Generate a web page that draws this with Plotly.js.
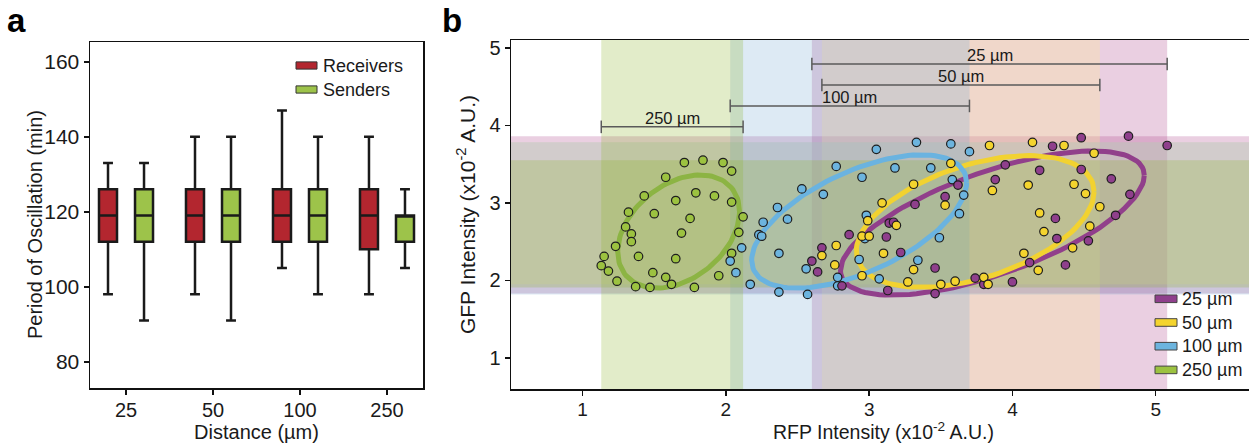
<!DOCTYPE html>
<html><head><meta charset="utf-8">
<script src="https://cdn.plot.ly/plotly-3.0.1.min.js"></script>
<style>html,body{margin:0;padding:0;overflow:hidden;background:#fff}#chart{width:1262px;height:443px}</style>
</head><body><div id="chart"></div><script>
// ---------- Panel a : period of oscillation ----------
const distances = ['25', '50', '100', '250'];
const recvLowerFence = [98, 98, 105, 98];
const recvQ1 = [112, 112, 112, 110];
const recvMedian = [119, 119, 119, 119];
const recvQ3 = [126, 126, 126, 126];
const recvUpperFence = [133, 140, 147, 140];
const sendLowerFence = [91, 91, 98, 105];
const sendQ1 = [112, 112, 112, 112];
const sendMedian = [119, 119, 119, 119];
const sendQ3 = [126, 126, 126, 119];
const sendUpperFence = [133, 140, 140, 126];
const boxNames = ['Receivers', 'Senders'];
const boxColors = ['#b3262f', '#9dc34a'];

// ---------- Panel b : GFP vs RFP ----------
const groupNames = ['25 µm', '50 µm', '100 µm', '250 µm'];
const groupColors = ['#8f3f8c', '#f4d42e', '#6cb4de', '#9cc240'];
const lineColors = ['#913f8b', '#f2d230', '#6ab3e0', '#8cb443'];
const bandColors = ['rgb(175,70,140)', 'rgb(255,235,150)', 'rgb(120,170,210)', 'rgb(140,180,40)'];
const bandOpacity = [0.26, 0.3, 0.25, 0.25];

const purpleX = [2.67, 2.60, 2.64, 3.88, 3.62, 3.53, 3.32, 3.14, 3.17, 2.86, 3.12, 3.22, 3.46, 3.13, 3.46, 3.74, 3.80, 2.81, 4.48, 4.81, 5.08, 4.28, 3.95, 4.19, 4.48, 4.69, 4.82, 4.72, 4.30, 4.31, 4.53, 4.12, 4.37, 4.00];
const purpleY = [2.42, 2.25, 2.11, 3.30, 3.23, 3.08, 2.98, 2.74, 2.75, 2.59, 2.56, 2.36, 2.16, 1.87, 1.83, 2.03, 1.95, 1.93, 3.84, 3.86, 3.74, 3.73, 3.49, 3.42, 3.43, 3.31, 3.11, 2.84, 2.80, 2.54, 2.51, 2.23, 2.20, 1.98];
const yellowX = [2.67, 2.77, 2.76, 3.84, 3.57, 3.31, 3.09, 3.86, 3.53, 2.99, 3.19, 2.95, 3.00, 3.10, 3.31, 2.95, 3.27, 3.50, 3.60, 3.80, 3.83, 4.14, 4.36, 4.57, 4.11, 4.43, 4.51, 4.61, 4.19, 4.54, 4.22, 4.42, 4.08, 4.18];
const yellowY = [2.32, 2.45, 2.20, 3.74, 3.51, 3.24, 3.00, 3.16, 2.97, 2.77, 2.71, 2.57, 2.57, 2.35, 2.14, 2.06, 1.98, 1.95, 1.99, 2.04, 1.95, 3.78, 3.74, 3.64, 3.23, 3.24, 3.12, 2.95, 2.87, 2.70, 2.63, 2.42, 2.35, 2.13];
const blueX = [2.77, 2.53, 2.68, 2.36, 2.43, 2.26, 2.23, 2.25, 2.11, 2.03, 2.07, 2.37, 2.56, 2.17, 2.37, 2.57, 2.78, 2.78, 3.05, 3.33, 3.57, 3.70, 3.18, 3.43, 2.95, 3.58, 3.66, 3.63, 2.98, 2.97, 3.49, 2.93, 3.34, 3.07];
const blueY = [3.47, 3.18, 3.11, 2.94, 2.79, 2.75, 2.59, 2.57, 2.42, 2.25, 2.10, 2.35, 2.15, 1.95, 1.85, 1.82, 2.04, 1.93, 3.69, 3.78, 3.76, 3.66, 3.45, 3.45, 3.33, 3.30, 3.10, 2.86, 2.84, 2.54, 2.55, 2.27, 2.26, 2.02];
const greenX = [1.58, 1.43, 1.32, 1.50, 1.30, 1.34, 1.34, 1.23, 1.15, 1.39, 1.13, 1.18, 1.24, 1.49, 1.58, 1.37, 1.47, 1.62, 1.71, 1.84, 1.98, 2.04, 1.65, 1.79, 1.92, 2.04, 2.12, 1.75, 1.69, 2.09, 1.65, 2.04, 1.95, 1.78];
const greenY = [3.33, 3.09, 2.88, 2.86, 2.69, 2.60, 2.50, 2.44, 2.31, 2.31, 2.19, 2.12, 1.99, 2.10, 2.04, 1.92, 1.91, 1.95, 3.52, 3.55, 3.52, 3.41, 3.03, 3.13, 3.09, 3.01, 2.82, 2.80, 2.61, 2.62, 2.28, 2.35, 2.06, 1.91];

// fitted ellipse parameters (centre, half-width, half-height, phase cosine)
const ellCx = [3.86, 3.74, 2.93, 1.67];
const ellCy = [2.74, 2.76, 2.76, 2.63];
const ellA = [1.06, 0.83, 0.75, 0.425];
const ellB = [0.93, 0.85, 0.86, 0.73];
const ellCos = [0.66, 0.45, 0.58, 0.355];

// heights of the range bars at the top
const barLevels = [4.79, 4.52, 4.25, 3.98];

const groupX = [purpleX, yellowX, blueX, greenX];
const groupY = [purpleY, yellowY, blueY, greenY];

const W = 1262, H = 443;
const px = v => v / W;
const py = v => 1 - v / H;
const FONT = 'Liberation Sans, Arial, sans-serif';

const traces = [];
const recv = {q1: recvQ1, median: recvMedian, q3: recvQ3, lowerfence: recvLowerFence, upperfence: recvUpperFence};
const send = {q1: sendQ1, median: sendMedian, q3: sendQ3, lowerfence: sendLowerFence, upperfence: sendUpperFence};
[recv, send].forEach((s, i) => {
  traces.push(Object.assign({
    type: 'box', name: boxNames[i], x: distances, xaxis: 'x', yaxis: 'y',
    fillcolor: boxColors[i], line: {color: '#1a1a1a', width: 2.5},
    whiskerwidth: 0.55, showlegend: false, hoverinfo: 'skip'
  }, s));
});

// ellipses
[0, 1, 2, 3].forEach(g => {
  const phi = Math.acos(ellCos[g]);
  const ex = [], ey = [];
  for (let k = 0; k <= 120; k++) {
    const t = 2 * Math.PI * k / 120;
    ex.push(ellCx[g] + ellA[g] * Math.cos(t));
    ey.push(ellCy[g] + ellB[g] * Math.cos(t - phi));
  }
  traces.push({type: 'scatter', mode: 'lines', x: ex, y: ey, xaxis: 'x2', yaxis: 'y2',
    line: {color: lineColors[g], width: 5}, showlegend: false, hoverinfo: 'skip'});
});

// points
[3, 2, 0, 1].forEach(g => {
  traces.push({type: 'scatter', mode: 'markers', x: groupX[g], y: groupY[g], xaxis: 'x2', yaxis: 'y2',
    name: groupNames[g], marker: {color: groupColors[g], size: 8.5, line: {color: '#1e1e1e', width: 1.2}},
    showlegend: false, hoverinfo: 'skip'});
});

const shapes = [];
const annotations = [];

// bands & range bars from data extents
groupNames.forEach((nm, g) => {
  const xmin = Math.min(...groupX[g]), xmax = Math.max(...groupX[g]);
  const ymin = Math.min(...groupY[g]), ymax = Math.max(...groupY[g]);
  shapes.push({type: 'rect', layer: 'below', xref: 'x2', yref: 'y2 domain', x0: xmin, x1: xmax, y0: 0, y1: 1,
    fillcolor: bandColors[g], opacity: bandOpacity[g], line: {width: 0}});
  shapes.push({type: 'rect', layer: 'below', xref: 'x2 domain', yref: 'y2', x0: 0, x1: 1, y0: ymin, y1: ymax,
    fillcolor: bandColors[g], opacity: bandOpacity[g], line: {width: 0}});
  traces.push({type: 'scatter', mode: 'lines+markers', x: [xmin, xmax], y: [barLevels[g], barLevels[g]],
    xaxis: 'x2', yaxis: 'y2', line: {color: '#5a5a5a', width: 1.5},
    marker: {symbol: 'line-ns-open', size: 9, line: {color: '#5a5a5a', width: 1.5}},
    showlegend: false, hoverinfo: 'skip'});
  annotations.push({xref: 'x2', yref: 'y2', x: (xmin + xmax) / 2, y: barLevels[g], text: nm,
    showarrow: false, yanchor: 'bottom', yshift: -2, font: {family: FONT, size: 16.5, color: '#1a1a1a'}});
});

// panel a legend
boxNames.forEach((nm, i) => {
  const cy = 65.5 + 24 * i;
  shapes.push({type: 'rect', xref: 'paper', yref: 'paper', x0: px(296), x1: px(317), y0: py(cy - 3.6), y1: py(cy + 3.6),
    fillcolor: boxColors[i], line: {color: '#333', width: 1}});
  annotations.push({xref: 'paper', yref: 'paper', x: px(321), y: py(cy), xanchor: 'left', yanchor: 'middle',
    text: nm, showarrow: false, font: {family: FONT, size: 18, color: '#1a1a1a'}});
});
// panel b legend
groupNames.forEach((nm, g) => {
  const cy = 298.8 + 23.7 * g;
  shapes.push({type: 'rect', xref: 'paper', yref: 'paper', x0: px(1155), x1: px(1177), y0: py(cy - 3.8), y1: py(cy + 3.8),
    fillcolor: groupColors[g], line: {color: '#444', width: 1}});
  annotations.push({xref: 'paper', yref: 'paper', x: px(1180), y: py(cy), xanchor: 'left', yanchor: 'middle',
    text: nm, showarrow: false, font: {family: FONT, size: 18, color: '#1a1a1a'}});
});

// panel a y-axis title
annotations.push({xref: 'paper', yref: 'paper', x: px(35), y: py(225), xanchor: 'center', yanchor: 'middle',
  textangle: -90, text: 'Period of Oscillation (min)', showarrow: false, font: {family: FONT, size: 20, color: '#1a1a1a'}});

// panel letters
annotations.push({xref: 'paper', yref: 'paper', x: px(5), y: py(0), xanchor: 'left', yanchor: 'top', text: '<b>a</b>',
  showarrow: false, font: {family: FONT, size: 33, color: '#000'}});
annotations.push({xref: 'paper', yref: 'paper', x: px(440), y: py(0), xanchor: 'left', yanchor: 'top', text: '<b>b</b>',
  showarrow: false, font: {family: FONT, size: 33, color: '#000'}});

const axBase = {showline: true, mirror: true, linecolor: '#111', linewidth: 1.5, ticks: 'outside', ticklen: 5,
  tickwidth: 1.5, tickcolor: '#111', showgrid: false, zeroline: false, fixedrange: true};

const layout = {
  width: W, height: H, margin: {l: 0, r: 0, t: 0, b: 0}, paper_bgcolor: '#fff', plot_bgcolor: 'rgba(0,0,0,0)',
  font: {family: FONT, color: '#1a1a1a'},
  boxmode: 'group', boxgap: 0.172, boxgroupgap: 0.5,
  xaxis: Object.assign({}, axBase, {domain: [px(90), px(423)], type: 'category', range: [-0.414, 3.414],
    tickfont: {size: 20}, ticklabelstandoff: -2, title: {text: 'Distance (µm)', font: {size: 20}, standoff: 0}, anchor: 'y'}),
  yaxis: Object.assign({}, axBase, {domain: [py(388), py(42)], range: [73, 165.3], tickvals: [80, 100, 120, 140, 160],
    tickfont: {size: 21}, anchor: 'x'}),
  xaxis2: Object.assign({}, axBase, {domain: [px(511), px(1256)], range: [0.5, 5.7], tickvals: [1, 2, 3, 4, 5],
    tickfont: {size: 19}, ticklabelstandoff: -2, title: {text: 'RFP Intensity (x10<sup>-2</sup> A.U.)', font: {size: 19.5}, standoff: 0}, anchor: 'y2'}),
  yaxis2: Object.assign({}, axBase, {domain: [py(389), py(40)], range: [0.6, 5.1], tickvals: [1, 2, 3, 4, 5],
    tickfont: {size: 20}, title: {text: 'GFP Intensity (x10<sup>-2</sup> A.U.)', font: {size: 21}, standoff: 8}, anchor: 'x2'}),
  shapes: shapes, annotations: annotations, showlegend: false
};

Plotly.newPlot('chart', traces, layout, {displayModeBar: false, staticPlot: true});
</script></body></html>
